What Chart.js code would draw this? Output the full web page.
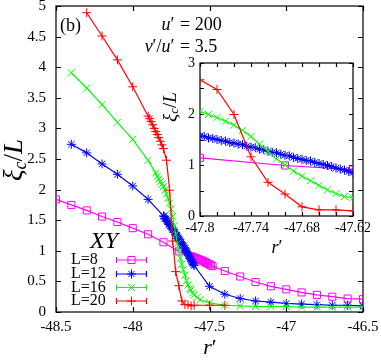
<!DOCTYPE html>
<html>
<head>
<meta charset="utf-8">
<script src="https://cdn.jsdelivr.net/npm/chart.js@4.4.0/dist/chart.umd.min.js"></script>
<style>
  html, body { margin: 0; padding: 0; background: #fff; }
  #wrap { position: relative; width: 381px; height: 362px; }
  #main { position: absolute; left: 0; top: 0; }
  #inset { position: absolute; left: 150px; top: 50px; }
</style>
</head>
<body>
<div id="wrap">
  <canvas id="main" width="381" height="362"></canvas>
  <canvas id="inset" width="220" height="215"></canvas>
</div>
<script>
// ---- dados (r' , xi_c/L) ----
const x8 = [-48.5, -48.4, -48.3, -48.2, -48.1, -48.0, -47.9, -47.8, -47.7, -47.62, -47.61, -47.6, -47.59, -47.58,
  -47.57, -47.56, -47.55, -47.54, -47.53, -47.52, -47.51, -47.5, -47.49, -47.48, -47.4, -47.3, -47.2, -47.1,
  -47.0, -46.9, -46.8, -46.7, -46.6, -46.5];
const y8 = [1.84, 1.75, 1.66, 1.56, 1.47, 1.37, 1.27, 1.14, 0.99, 0.91, 0.9, 0.89, 0.88, 0.87,
  0.86, 0.85, 0.84, 0.83, 0.82, 0.8, 0.79, 0.78, 0.76, 0.75, 0.67, 0.58, 0.49, 0.42,
  0.37, 0.32, 0.28, 0.25, 0.22, 0.21];

const x12 = [-48.4, -48.3, -48.2, -48.1, -48.0, -47.9,
  -47.8, -47.795, -47.79, -47.785, -47.78, -47.775, -47.77, -47.765, -47.76, -47.755,
  -47.75, -47.745, -47.74, -47.735, -47.73, -47.725, -47.72, -47.715, -47.71, -47.705,
  -47.7, -47.695, -47.69, -47.685, -47.68, -47.675, -47.67, -47.665, -47.66, -47.655,
  -47.65, -47.645, -47.64, -47.635, -47.63, -47.625, -47.62, -47.615, -47.61, -47.605, -47.6,
  -47.5, -47.4, -47.3, -47.2, -47.1, -47.0, -46.9, -46.8, -46.7, -46.6, -46.5];
const y12 = [2.74, 2.60, 2.42, 2.25, 2.06, 1.84,
  1.57, 1.56, 1.53, 1.52, 1.50, 1.48, 1.47, 1.44, 1.43, 1.41,
  1.40, 1.37, 1.35, 1.34, 1.31, 1.30, 1.27, 1.25, 1.24, 1.21,
  1.19, 1.18, 1.15, 1.13, 1.11, 1.09, 1.08, 1.05, 1.03, 1.01,
  0.99, 0.97, 0.94, 0.92, 0.90, 0.87, 0.85, 0.82, 0.80, 0.78, 0.76,
  0.42, 0.29, 0.22, 0.18, 0.16, 0.14, 0.13, 0.12, 0.11, 0.11, 0.10];

const x16 = [-48.4, -48.3, -48.2, -48.1, -48.0, -47.9, -47.85, -47.84, -47.83, -47.82, -47.81,
  -47.8, -47.79, -47.78, -47.77, -47.76, -47.75, -47.74, -47.73, -47.72, -47.71, -47.7,
  -47.69, -47.68, -47.67, -47.66, -47.65, -47.64, -47.63, -47.62, -47.61, -47.6,
  -47.58, -47.56, -47.5, -47.4, -47.3, -47.2, -47.1, -47.0, -46.9, -46.8, -46.7, -46.6, -46.5];
const y16 = [3.91, 3.66, 3.39, 3.10, 2.82, 2.48, 2.27, 2.22, 2.17, 2.13, 2.09,
  2.05, 1.99, 1.93, 1.86, 1.78, 1.68, 1.56, 1.41, 1.27, 1.12, 1.00,
  0.88, 0.78, 0.69, 0.60, 0.51, 0.44, 0.38, 0.36, 0.31, 0.28,
  0.24, 0.20, 0.15, 0.11, 0.10, 0.09, 0.09, 0.09, 0.08, 0.08, 0.08, 0.08, 0.08];

const x20 = [-48.3, -48.2, -48.1, -48.0, -47.9, -47.89, -47.88, -47.87, -47.86, -47.85, -47.84,
  -47.83, -47.82, -47.81, -47.8, -47.78, -47.76, -47.74, -47.72, -47.7, -47.68, -47.66,
  -47.64, -47.62, -47.6, -47.5, -47.4];
const y20 = [4.89, 4.51, 4.12, 3.68, 3.20, 3.16, 3.11, 3.06, 3.00, 2.95, 2.90,
  2.85, 2.79, 2.73, 2.67, 2.48, 1.99, 1.16, 0.66, 0.43, 0.18, 0.12,
  0.12, 0.10, 0.11, 0.11, 0.11];

const rotulos = ['L=8', 'L=12', 'L=16', 'L=20'];
// ---------------------------------------------------------------

const SERIF = '"Liberation Serif", "DejaVu Serif", serif';
const series = [
  { xs: x8,  ys: y8,  cor: '#ff00ff', estilo: 'rect',     r: 5 },
  { xs: x12, ys: y12, cor: '#0000ff', estilo: 'star',     r: 4.5 },
  { xs: x16, ys: y16, cor: '#00ff00', estilo: 'crossRot', r: 5 },
  { xs: x20, ys: y20, cor: '#ff0000', estilo: 'cross',    r: 4.5 }
];

function fmt(v) { return String(parseFloat(v.toFixed(3))); }

function montaDatasets(clip) {
  return series.map((s, i) => ({
    label: rotulos[i],
    data: s.xs.map((x, k) => ({ x: x, y: s.ys[k] })),
    borderColor: s.cor,
    borderWidth: 1.2,
    pointStyle: s.estilo,
    pointRadius: s.r,
    pointHoverRadius: s.r,
    pointBorderColor: s.cor,
    pointBorderWidth: 1,
    pointBackgroundColor: 'rgba(0,0,0,0)',
    tension: 0,
    fill: false,
    order: 4 - i,
    clip: clip
  }));
}

// texto com partes em fontes diferentes (itálico, subscrito...)
function textoRico(ctx, partes, x, y, align) {
  let total = 0;
  partes.forEach(p => { ctx.font = p.f; total += ctx.measureText(p.t).width; });
  let cx = align === 'center' ? x - total / 2 : (align === 'right' ? x - total : x);
  ctx.textBaseline = 'middle';
  ctx.textAlign = 'left';
  partes.forEach(p => {
    ctx.font = p.f;
    ctx.fillText(p.t, cx, y + (p.dy || 0));
    cx += ctx.measureText(p.t).width;
  });
}

// moldura + ticks para dentro (estilo gnuplot)
function moldura(tam, fundoBranco) {
  return {
    id: 'moldura',
    beforeDraw(chart) {
      if (!fundoBranco) return;
      const a = chart.chartArea, ctx = chart.ctx;
      ctx.save();
      ctx.fillStyle = '#fff';
      ctx.fillRect(a.left, a.top, a.right - a.left, a.bottom - a.top);
      ctx.restore();
    },
    beforeDatasetsDraw(chart) {
      const a = chart.chartArea, ctx = chart.ctx;
      const sx = chart.scales.x, sy = chart.scales.y;
      ctx.save();
      ctx.strokeStyle = '#000';
      ctx.lineWidth = 1.2;
      ctx.beginPath();
      sx.ticks.forEach(t => {
        const p = Math.round(sx.getPixelForValue(t.value)) + 0.5;
        ctx.moveTo(p, a.bottom); ctx.lineTo(p, a.bottom - tam);
        ctx.moveTo(p, a.top); ctx.lineTo(p, a.top + tam);
      });
      sy.ticks.forEach(t => {
        const p = Math.round(sy.getPixelForValue(t.value)) + 0.5;
        ctx.moveTo(a.left, p); ctx.lineTo(a.left + tam, p);
        ctx.moveTo(a.right, p); ctx.lineTo(a.right - tam, p);
      });
      ctx.stroke();
      ctx.strokeRect(a.left, a.top, a.right - a.left, a.bottom - a.top);
      ctx.restore();
    }
  };
}

const textosPrincipal = {
  id: 'textosPrincipal',
  afterDraw(chart) {
    const ctx = chart.ctx;
    ctx.save();
    ctx.fillStyle = '#000';
    // (b)
    textoRico(ctx, [{ t: '(b)', f: '18px ' + SERIF }], 60, 26, 'left');
    // parâmetros alinhados pelo "="
    textoRico(ctx, [{ t: 'u', f: 'italic 18px ' + SERIF }, { t: '′ ', f: '18px ' + SERIF }], 179, 25, 'right');
    textoRico(ctx, [{ t: '= 200', f: '18px ' + SERIF }], 180, 25, 'left');
    textoRico(ctx, [{ t: 'v', f: 'italic 18px ' + SERIF }, { t: '′/', f: '18px ' + SERIF },
      { t: 'u', f: 'italic 18px ' + SERIF }, { t: '′ ', f: '18px ' + SERIF }], 179, 47, 'right');
    textoRico(ctx, [{ t: '= 3.5', f: '18px ' + SERIF }], 180, 47, 'left');
    // título eixo x
    textoRico(ctx, [{ t: 'r', f: 'italic 22px ' + SERIF }, { t: '′', f: '22px ' + SERIF }], 210, 348, 'center');
    // título eixo y (rotacionado)
    ctx.save();
    ctx.translate(15, 160);
    ctx.rotate(-Math.PI / 2);
    textoRico(ctx, [{ t: 'ξ', f: 'italic 27px ' + SERIF }, { t: 'c', f: 'italic 18px ' + SERIF, dy: 6 },
      { t: '/', f: '27px ' + SERIF }, { t: 'L', f: 'italic 27px ' + SERIF }], 0, 0, 'center');
    ctx.restore();
    // legenda
    textoRico(ctx, [{ t: 'XY', f: 'italic 24px ' + SERIF }], 104, 242, 'center');
    const ly = [260, 274, 287.5, 301];
    series.forEach((s, i) => {
      const y = ly[i];
      textoRico(ctx, [{ t: rotulos[i], f: '16px ' + SERIF }], 71, y, 'left');
      ctx.strokeStyle = s.cor;
      ctx.lineWidth = 1.2;
      ctx.beginPath();
      ctx.moveTo(116, y); ctx.lineTo(147, y);
      ctx.moveTo(116.5, y - 3); ctx.lineTo(116.5, y + 3);
      ctx.moveTo(146.5, y - 3); ctx.lineTo(146.5, y + 3);
      ctx.stroke();
      ctx.lineWidth = 1;
      ctx.fillStyle = 'rgba(0,0,0,0)';
      Chart.helpers.drawPoint(ctx, { pointStyle: s.estilo, radius: s.r, rotation: 0, borderWidth: 1 }, 131.5, y);
      ctx.fillStyle = '#000';
    });
    ctx.restore();
  }
};

const textosInset = {
  id: 'textosInset',
  afterDraw(chart) {
    const ctx = chart.ctx;
    ctx.save();
    ctx.fillStyle = '#000';
    textoRico(ctx, [{ t: 'r', f: 'italic 18px ' + SERIF }, { t: '′', f: '18px ' + SERIF }], 127, 198, 'center');
    ctx.translate(21, 57);
    ctx.rotate(-Math.PI / 2);
    textoRico(ctx, [{ t: 'ξ', f: 'italic 19px ' + SERIF }, { t: 'c', f: 'italic 13px ' + SERIF, dy: 4 },
      { t: '/', f: '19px ' + SERIF }, { t: 'L', f: 'italic 19px ' + SERIF }], 0, 0, 'center');
    ctx.restore();
  }
};

function eixo(min, max, passo, tamFonte, pad, ajuste, cb) {
  return {
    type: 'linear', min: min, max: max,
    grid: { display: false, drawTicks: false },
    border: { display: false },
    ticks: {
      stepSize: passo, autoSkip: false, maxRotation: 0, minRotation: 0,
      color: '#000', padding: pad, font: { family: SERIF, size: tamFonte },
      callback: cb
    },
    afterFit: ajuste
  };
}

new Chart(document.getElementById('main'), {
  type: 'line',
  data: { datasets: montaDatasets(undefined) },
  options: {
    responsive: false, animation: false, events: [],
    layout: { padding: { left: 0, top: 6, right: 18, bottom: 0 } },
    plugins: { legend: { display: false }, tooltip: { enabled: false } },
    scales: {
      x: eixo(-48.5, -46.5, 0.5, 15, 6, s => { s.height = 50; s.paddingLeft = 0; s.paddingRight = 0; }, v => fmt(v)),
      y: eixo(0, 5, 0.5, 15, 10, s => { s.width = 56; s.paddingTop = 0; s.paddingBottom = 0; }, v => fmt(v))
    }
  },
  plugins: [moldura(5, false), textosPrincipal]
});

new Chart(document.getElementById('inset'), {
  type: 'line',
  data: { datasets: montaDatasets(0) },
  options: {
    responsive: false, animation: false, events: [],
    layout: { padding: { left: 0, top: 13, right: 17, bottom: 0 } },
    plugins: { legend: { display: false }, tooltip: { enabled: false } },
    scales: {
      x: eixo(-47.8, -47.62, 0.02, 14, 4, s => { s.height = 49; s.paddingLeft = 0; s.paddingRight = 0; },
        (v, i) => (i % 3 === 0 ? fmt(v) : '')),
      y: eixo(0, 3, 0.5, 14, 5, s => { s.width = 50; s.paddingTop = 0; s.paddingBottom = 0; },
        v => (Math.abs(v - Math.round(v)) < 1e-6 ? fmt(v) : ''))
    }
  },
  plugins: [moldura(4, true), textosInset]
});
</script>
</body>
</html>
